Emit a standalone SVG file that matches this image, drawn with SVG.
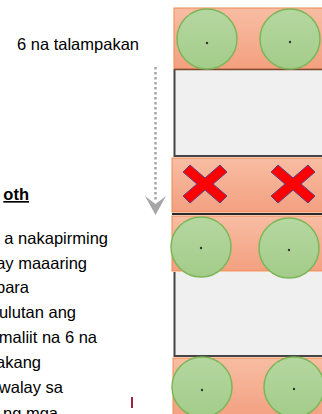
<svg xmlns="http://www.w3.org/2000/svg" width="322" height="414" viewBox="0 0 322 414">
<defs>
<linearGradient id="og" x1="0" y1="0" x2="0" y2="1"><stop offset="0" stop-color="#f8bda3"/><stop offset="1" stop-color="#f3a080"/></linearGradient>
<linearGradient id="gg" x1="0" y1="0" x2="0" y2="1"><stop offset="0" stop-color="#b5d7a0"/><stop offset="1" stop-color="#a3cc8a"/></linearGradient>
<path id="x" d="M-22,-12 L-15,-19 L0,-6 L15,-19 L22,-12 L8,0 L22,12 L15,19 L0,6 L-15,19 L-22,12 L-8,0 Z"/>
</defs>
<style>
.band{fill:url(#og);stroke:#ee8a55;stroke-width:1}
.panel{fill:#f0f0f0}
.edge{stroke:#454545;stroke-width:2;fill:none}
.c{fill:url(#gg);stroke:#7cb657;stroke-width:1.5}
.d{fill:#333}
.xm{fill:#ff0000;stroke:#5b3f86;stroke-width:1}
.t{font-family:"Liberation Sans",Arial,sans-serif;font-size:16.5px;fill:#000}
.b{font-weight:bold;text-decoration:underline}
</style>
<rect width="322" height="414" fill="#ffffff"/>
<g id="labels">
<text class="t" x="17" y="50">6 na talampakan</text>
<text class="t b" x="29" y="200" text-anchor="end">oth</text>
<text class="t" x="108" y="244" text-anchor="end">a nakapirming</text>
<text class="t" x="87" y="269" text-anchor="end">ay maaaring</text>
<text class="t" x="29" y="293" text-anchor="end">para</text>
<text class="t" x="76" y="318" text-anchor="end">ulutan ang</text>
<text class="t" x="97" y="343" text-anchor="end">maliit na 6 na</text>
<text class="t" x="41" y="368" text-anchor="end">akang</text>
<text class="t" x="63" y="393" text-anchor="end">walay sa</text>
<text class="t" x="58" y="419" text-anchor="end">ng mga</text>
<rect x="131" y="397" width="2" height="11" fill="#a02545"/>
</g>
<g id="panel1">
<rect class="panel" x="174" y="69" width="150" height="88"/>
<path class="edge" d="M174.5,69 V156 H324"/>
</g>
<g id="panel2">
<rect class="panel" x="174" y="272" width="150" height="85"/>
<path class="edge" d="M174.5,272 V356 H324"/>
</g>
<g id="band1">
<rect class="band" x="174" y="8" width="152" height="61"/>
<line x1="174" y1="69.5" x2="324" y2="69.5" stroke="#7a4a30" stroke-width="1.5"/>
<circle class="c" cx="207" cy="39" r="30"/><circle class="d" cx="207" cy="43" r="1.2"/>
<circle class="c" cx="290" cy="39" r="30"/><circle class="d" cx="290" cy="42" r="1.2"/>
</g>
<g id="band2">
<rect class="band" x="172" y="158" width="154" height="54"/>
<line x1="172" y1="214" x2="324" y2="214" stroke="#2a2a2a" stroke-width="2"/>
<use href="#x" class="xm" x="205" y="184"/>
<use href="#x" class="xm" x="293" y="184"/>
</g>
<g id="band3">
<rect class="band" x="172" y="216" width="154" height="55"/>
<circle class="c" cx="201" cy="247" r="30"/><circle class="d" cx="201" cy="248" r="1.2"/>
<circle class="c" cx="289" cy="248" r="30"/><circle class="d" cx="289" cy="250" r="1.2"/>
</g>
<g id="band4">
<rect class="band" x="173" y="358" width="153" height="60"/>
<circle class="c" cx="202" cy="387" r="30"/><circle class="d" cx="202" cy="390" r="1.2"/>
<circle class="c" cx="294" cy="387" r="30"/><circle class="d" cx="294" cy="389" r="1.2"/>
</g>
<g id="connectors">
<line x1="155.5" y1="67" x2="155.5" y2="200" stroke="#a6a6a6" stroke-width="2.5" stroke-dasharray="2.5,2.5"/>
<path d="M145,196 L155.5,204 L166,196 L155.5,215 Z" fill="#a6a6a6"/>
</g>
</svg>
